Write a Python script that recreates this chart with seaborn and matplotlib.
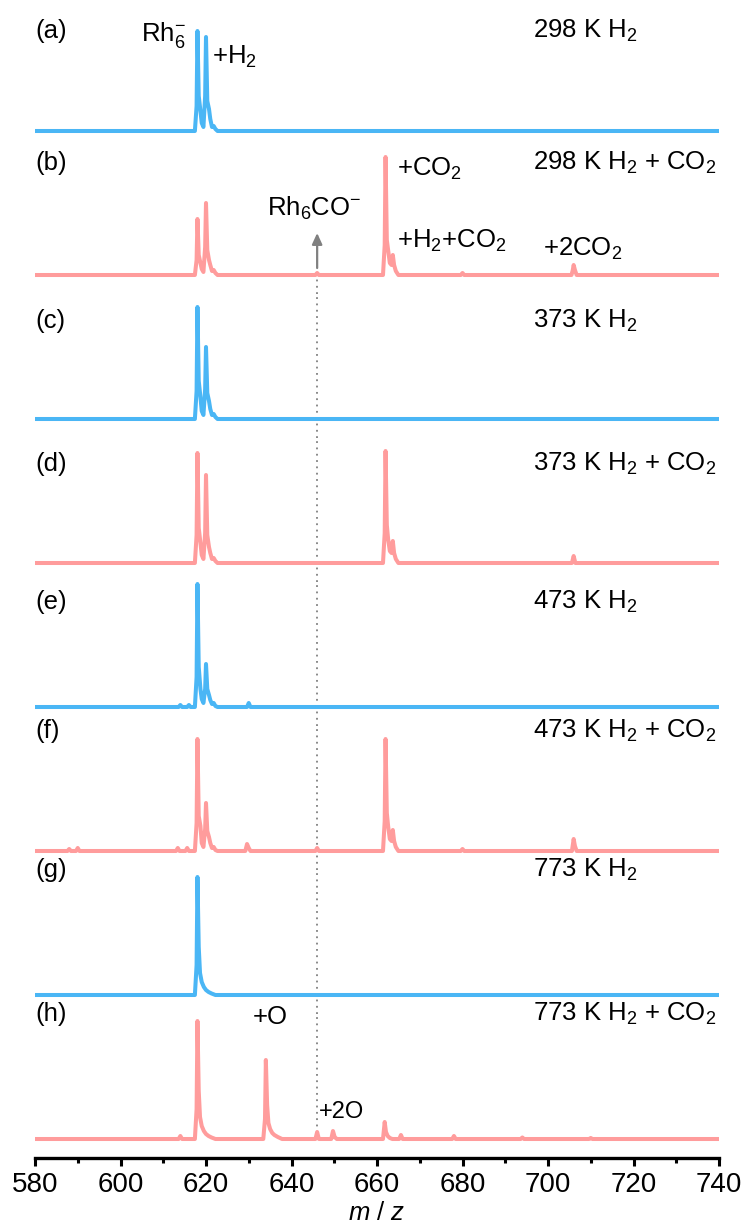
import matplotlib
matplotlib.use('Agg')
import matplotlib.pyplot as plt
import seaborn as sns
from matplotlib import font_manager
from matplotlib.ticker import MultipleLocator

# ---- spectra (m/z, intensity in arbitrary units) ----
mz_a = [580, 617.4, 617.8, 618.0, 618.3, 618.7, 619.0, 619.4, 619.8, 620.0, 620.3, 620.7, 621.0, 621.4, 621.8, 622.2, 622.7, 740]
int_a = [0, 0, 25, 100, 35, 20, 8, 4, 35, 94, 30, 22, 12, 4, 5, 2, 0, 0]

mz_b = [580, 617.4, 617.8, 618.0, 618.3, 618.7, 619.0, 619.4, 619.8, 620.0, 620.3, 620.7, 621.0, 621.4, 621.8, 622.2, 622.7,
        645.6, 646.0, 646.4, 661.4, 661.8, 662.0, 662.3, 662.6, 663.0, 663.4, 663.7, 664.0, 664.4, 665.0,
        679.6, 680.0, 680.4, 705.5, 705.8, 706.0, 706.3, 706.7, 740]
int_b = [0, 0, 15, 56, 20, 12, 6, 3, 28, 72, 25, 15, 10, 4, 5, 2, 0,
         0, 2, 0, 0, 30, 118, 35, 25, 12, 10, 20, 10, 4, 0,
         0, 2, 0, 0, 5, 10, 5, 0, 0]

mz_c = [580, 617.4, 617.8, 618.0, 618.3, 618.7, 619.0, 619.4, 619.8, 620.0, 620.3, 620.7, 621.0, 621.4, 621.8, 622.2, 622.7, 740]
int_c = [0, 0, 28, 112, 38, 22, 8, 4, 30, 72, 26, 18, 10, 4, 5, 2, 0, 0]

mz_d = [580, 617.4, 617.8, 618.0, 618.3, 618.7, 619.0, 619.4, 619.8, 620.0, 620.3, 620.7, 621.0, 621.4, 621.8, 622.2, 622.7,
        661.4, 661.8, 662.0, 662.3, 662.6, 663.0, 663.4, 663.7, 664.0, 664.4, 665.0, 705.6, 706.0, 706.4, 740]
int_d = [0, 0, 28, 110, 35, 20, 8, 4, 30, 88, 28, 16, 10, 4, 5, 2, 0,
         0, 30, 112, 38, 24, 12, 10, 22, 10, 4, 0, 0, 7, 0, 0]

mz_e = [580, 613.6, 614.0, 614.4, 615.6, 616.0, 616.4,
        617.4, 617.8, 618.0, 618.3, 618.7, 619.0, 619.4, 619.8, 620.0, 620.3, 620.7, 621.0, 621.4, 621.8, 622.2, 622.7,
        629.6, 630.0, 630.4, 740]
int_e = [0, 0, 2, 0, 0, 2, 0,
         0, 30, 123, 40, 18, 8, 4, 18, 43, 18, 12, 7, 3, 4, 1, 0,
         0, 4, 0, 0]

mz_f = [580, 587.6, 588.0, 588.4, 589.6, 590.0, 590.4, 613.0, 613.4, 613.8, 615.2, 615.6, 616.0,
        617.4, 617.8, 618.0, 618.3, 618.7, 619.0, 619.4, 619.8, 620.0, 620.3, 620.7, 621.0, 621.4, 621.8, 622.2, 622.7,
        629.2, 629.6, 630.0, 630.4, 645.6, 646.0, 646.4,
        661.4, 661.8, 662.0, 662.3, 662.6, 663.0, 663.4, 663.7, 664.0, 664.4, 665.0,
        679.6, 680.0, 680.4, 705.6, 706.0, 706.3, 706.7, 740]
int_f = [0, 0, 2, 0, 0, 3, 0, 0, 3, 0, 0, 3, 0,
         0, 28, 112, 35, 25, 8, 4, 22, 48, 20, 14, 8, 3, 4, 1, 0,
         0, 7, 3, 0, 0, 3, 0,
         0, 30, 112, 38, 25, 12, 10, 21, 10, 4, 0,
         0, 2, 0, 0, 12, 5, 0, 0]

mz_g = [580, 617.4, 617.8, 618.0, 618.3, 618.6, 619.0, 619.5, 620.0, 620.6, 621.3, 622.2, 740]
int_g = [0, 0, 30, 118, 48, 22, 13, 8, 5, 3, 1.5, 0, 0]

mz_h = [580, 613.6, 614.0, 614.4,
        617.4, 617.8, 618.0, 618.3, 618.6, 619.0, 619.5, 620.0, 620.6, 621.3, 622.2,
        633.4, 633.8, 634.0, 634.3, 634.6, 635.0, 635.5, 636.0, 636.8, 637.8,
        645.6, 646.0, 646.4, 649.3, 649.7, 650.1, 650.6,
        661.4, 661.8, 662.1, 662.5, 663.0, 663.6, 665.2, 665.6, 666.0,
        677.6, 678.0, 678.4, 693.6, 694.0, 694.4, 709.6, 710.0, 710.4, 740]
int_h = [0, 0, 3, 0,
         0, 30, 118, 48, 22, 13, 8, 5, 3, 1.5, 0,
         0, 20, 79, 34, 16, 10, 6, 4, 2, 0,
         0, 7, 0, 0, 8, 2, 0,
         0, 17, 7, 3, 1, 0, 0, 4, 0,
         0, 3, 0, 0, 1.5, 0, 0, 1, 0, 0]

panel_tags = ['(a)', '(b)', '(c)', '(d)', '(e)', '(f)', '(g)', '(h)']
conditions = ['298 K H$_2$', '298 K H$_2$ + CO$_2$', '373 K H$_2$', '373 K H$_2$ + CO$_2$',
              '473 K H$_2$', '473 K H$_2$ + CO$_2$', '773 K H$_2$', '773 K H$_2$ + CO$_2$']
tag_heights = [93, 105, 91, 92, 98, 113, 118, 118]

spectra = [(mz_a, int_a), (mz_b, int_b), (mz_c, int_c), (mz_d, int_d),
           (mz_e, int_e), (mz_f, int_f), (mz_g, int_g), (mz_h, int_h)]

blue = '#4AB6F5'
pink = '#FF9C9C'

sns.set_theme(style='white')
plt.rcParams['font.family'] = ['Liberation Sans', 'DejaVu Sans']
plt.rcParams['text.color'] = 'black'
plt.rcParams['axes.labelcolor'] = 'black'
plt.rcParams['xtick.color'] = 'black'
plt.rcParams['mathtext.fontset'] = 'custom'
plt.rcParams['mathtext.rm'] = 'Liberation Sans'
plt.rcParams['mathtext.it'] = 'Liberation Sans:italic'
plt.rcParams['mathtext.default'] = 'regular'

installed = {f.name for f in font_manager.fontManager.ttflist}
if 'Liberation Sans Narrow' in installed:
    tick_font, tick_size = 'Liberation Sans Narrow', 22
else:
    tick_font, tick_size = 'Liberation Sans', 20

fig = plt.figure(figsize=(7.42, 12.25), dpi=100)
gs = fig.add_gridspec(8, 1, left=35 / 742, right=719 / 742, bottom=1 - 1158 / 1225, top=1 - 6 / 1225, hspace=0)
axes = []
for i in range(8):
    ax = fig.add_subplot(gs[i], sharex=axes[0] if axes else None)
    axes.append(ax)

ylo, yhi = -19, 125
base_frac = -ylo / (yhi - ylo)
fs = 18.5

for i, ax in enumerate(axes):
    mz, inten = spectra[i]
    color = blue if i % 2 == 0 else pink
    sns.lineplot(x=mz, y=inten, ax=ax, color=color, linewidth=2.9, sort=False, estimator=None, zorder=3)
    ax.lines[-1].set_solid_joinstyle('round')
    ax.set_xlim(580, 740)
    ax.set_ylim(ylo, yhi)
    ax.set_yticks([])
    ax.set_ylabel('')
    ax.set_xlabel('')
    for s in ['top', 'left', 'right']:
        ax.spines[s].set_visible(False)
    ax.patch.set_alpha(0)
    ax.text(580, tag_heights[i], panel_tags[i], fontsize=fs, ha='left', va='baseline')
    ax.text(696.5, tag_heights[i], conditions[i], fontsize=fs, ha='left', va='baseline')

    # dotted guide at m/z 646 (Rh6CO-)
    if i == 1:
        ax.axvline(646, ymin=0, ymax=base_frac, color='#808080', lw=1.3, ls=(0, (1, 2.5)), zorder=1)
    elif i == 7:
        ax.axvline(646, ymin=base_frac, ymax=1, color='#808080', lw=1.3, ls=(0, (1, 2.5)), zorder=1)
    elif i > 1:
        ax.axvline(646, ymin=0, ymax=1, color='#808080', lw=1.3, ls=(0, (1, 2.5)), zorder=1)

    if i < 7:
        ax.spines['bottom'].set_visible(False)
        ax.tick_params(axis='x', which='both', bottom=False, labelbottom=False)

# peak labels
axes[0].text(615.3, 90, 'Rh$_6^{-}$', fontsize=fs, ha='right', va='baseline')
axes[0].text(621.4, 67, '+H$_2$', fontsize=fs, ha='left', va='baseline')
axes[1].text(664.6, 99, '+CO$_2$', fontsize=fs, ha='left', va='baseline')
axes[1].text(664.6, 27, '+H$_2$+CO$_2$', fontsize=fs, ha='left', va='baseline')
axes[1].text(698.8, 19, '+2CO$_2$', fontsize=fs, ha='left', va='baseline')
axes[1].text(634.3, 59, 'Rh$_6$CO$^{-}$', fontsize=fs, ha='left', va='baseline')
axes[1].annotate('', xy=(646, 42), xytext=(646, 7),
                 arrowprops=dict(arrowstyle='-|>,head_length=0.55,head_width=0.25',
                                 color='#808080', lw=1.6, shrinkA=0, shrinkB=0))
axes[7].text(631.0, 115, '+O', fontsize=fs, ha='left', va='baseline')
axes[7].text(646.4, 21, '+2O', fontsize=17, ha='left', va='baseline')

bottom = axes[7]
bottom.spines['bottom'].set_color('black')
bottom.spines['bottom'].set_linewidth(2.4)
bottom.xaxis.set_major_locator(MultipleLocator(20))
bottom.xaxis.set_minor_locator(MultipleLocator(10))
bottom.tick_params(axis='x', which='major', bottom=True, direction='out', length=6, width=2.2,
                   color='black', pad=4, labelsize=tick_size)
bottom.tick_params(axis='x', which='minor', bottom=True, direction='out', length=3.8, width=2.2, color='black')
for lab in bottom.get_xticklabels():
    lab.set_fontfamily(tick_font)
bottom.set_xlabel(r'$\mathit{m}$ / $\mathit{z}$', fontsize=18.5, labelpad=2)

fig.savefig('out.png', dpi=100)
